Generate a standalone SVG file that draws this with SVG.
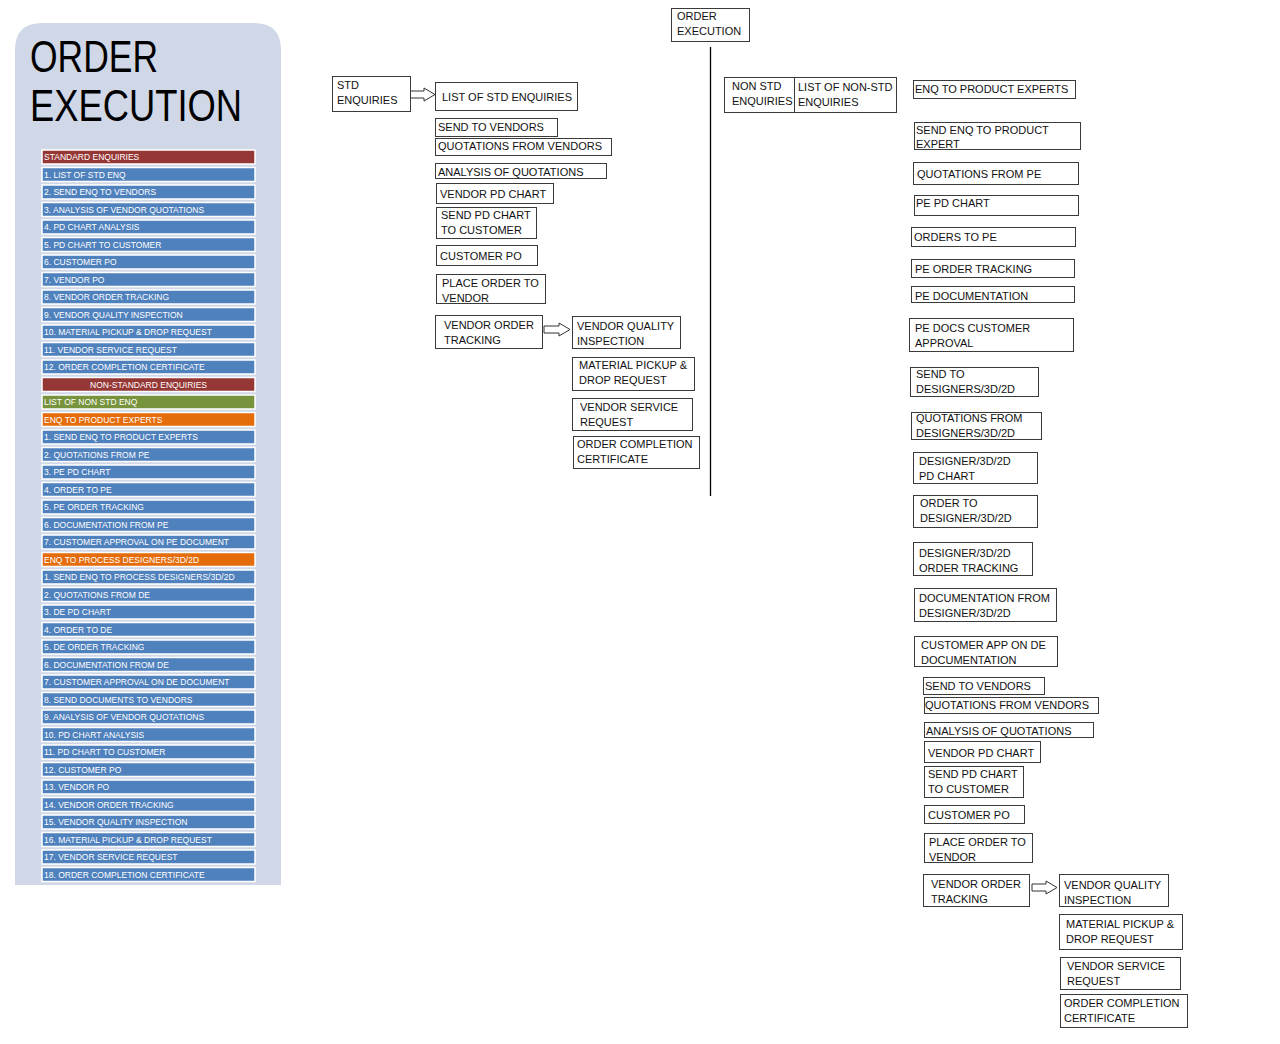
<svg xmlns="http://www.w3.org/2000/svg" width="1280" height="1044" viewBox="0 0 1280 1044">
<style>
.bar{stroke:#fff;stroke-width:1.5}
.b{fill:#4f81bd}.r{fill:#953735}.g{fill:#77933c}.o{fill:#e46c0a}
.bt{font-family:"Liberation Sans",Arial,sans-serif;font-size:8.5px;fill:#fff}
.box{fill:#fff;stroke:#3a3a3a;stroke-width:1}
.t{font-family:"Liberation Sans",Arial,sans-serif;font-size:11px;fill:#111}
.arr{fill:#fff;stroke:#333;stroke-width:1}
</style>
<rect width="1280" height="1044" fill="#fff"/>
<g id="panel">
<path d="M15 885 V50 Q15 23 42 23 H254 Q281 23 281 50 V885 Z" fill="#d0d8e8"/>
<text x="30" y="72" font-family="Liberation Sans,Arial,sans-serif" font-size="44" fill="#000" textLength="128" lengthAdjust="spacingAndGlyphs">ORDER</text>
<text x="30" y="121" font-family="Liberation Sans,Arial,sans-serif" font-size="44" fill="#000" textLength="212" lengthAdjust="spacingAndGlyphs">EXECUTION</text>
<g id="bars">
<rect class="bar r" x="42" y="150" width="213" height="14"/><text class="bt" x="44" y="160">STANDARD ENQUIRIES</text>
<rect class="bar b" x="42" y="167.5" width="213" height="14"/><text class="bt" x="44" y="177.5">1. LIST OF STD ENQ</text>
<rect class="bar b" x="42" y="185" width="213" height="14"/><text class="bt" x="44" y="195">2. SEND ENQ TO VENDORS</text>
<rect class="bar b" x="42" y="202.5" width="213" height="14"/><text class="bt" x="44" y="212.5">3. ANALYSIS OF VENDOR QUOTATIONS</text>
<rect class="bar b" x="42" y="220" width="213" height="14"/><text class="bt" x="44" y="230">4. PD CHART ANALYSIS</text>
<rect class="bar b" x="42" y="237.5" width="213" height="14"/><text class="bt" x="44" y="247.5">5. PD CHART TO CUSTOMER</text>
<rect class="bar b" x="42" y="255" width="213" height="14"/><text class="bt" x="44" y="265">6. CUSTOMER PO</text>
<rect class="bar b" x="42" y="272.5" width="213" height="14"/><text class="bt" x="44" y="282.5">7. VENDOR PO</text>
<rect class="bar b" x="42" y="290" width="213" height="14"/><text class="bt" x="44" y="300">8. VENDOR ORDER TRACKING</text>
<rect class="bar b" x="42" y="307.5" width="213" height="14"/><text class="bt" x="44" y="317.5">9. VENDOR QUALITY INSPECTION</text>
<rect class="bar b" x="42" y="325" width="213" height="14"/><text class="bt" x="44" y="335">10. MATERIAL PICKUP &amp; DROP REQUEST</text>
<rect class="bar b" x="42" y="342.5" width="213" height="14"/><text class="bt" x="44" y="352.5">11. VENDOR SERVICE REQUEST</text>
<rect class="bar b" x="42" y="360" width="213" height="14"/><text class="bt" x="44" y="370">12. ORDER COMPLETION CERTIFICATE</text>
<rect class="bar r" x="42" y="377.5" width="213" height="14"/><text class="bt" x="148.5" y="387.5" text-anchor="middle">NON-STANDARD ENQUIRIES</text>
<rect class="bar g" x="42" y="395" width="213" height="14"/><text class="bt" x="44" y="405">LIST OF  NON STD ENQ</text>
<rect class="bar o" x="42" y="412.5" width="213" height="14"/><text class="bt" x="44" y="422.5">ENQ TO PRODUCT EXPERTS</text>
<rect class="bar b" x="42" y="430" width="213" height="14"/><text class="bt" x="44" y="440">1. SEND ENQ TO PRODUCT EXPERTS</text>
<rect class="bar b" x="42" y="447.5" width="213" height="14"/><text class="bt" x="44" y="457.5">2. QUOTATIONS FROM PE</text>
<rect class="bar b" x="42" y="465" width="213" height="14"/><text class="bt" x="44" y="475">3. PE PD CHART</text>
<rect class="bar b" x="42" y="482.5" width="213" height="14"/><text class="bt" x="44" y="492.5">4. ORDER TO PE</text>
<rect class="bar b" x="42" y="500" width="213" height="14"/><text class="bt" x="44" y="510">5. PE ORDER TRACKING</text>
<rect class="bar b" x="42" y="517.5" width="213" height="14"/><text class="bt" x="44" y="527.5">6. DOCUMENTATION FROM PE</text>
<rect class="bar b" x="42" y="535" width="213" height="14"/><text class="bt" x="44" y="545">7. CUSTOMER APPROVAL ON PE DOCUMENT</text>
<rect class="bar o" x="42" y="552.5" width="213" height="14"/><text class="bt" x="44" y="562.5">ENQ TO PROCESS DESIGNERS/3D/2D</text>
<rect class="bar b" x="42" y="570" width="213" height="14"/><text class="bt" x="44" y="580">1. SEND ENQ TO PROCESS DESIGNERS/3D/2D</text>
<rect class="bar b" x="42" y="587.5" width="213" height="14"/><text class="bt" x="44" y="597.5">2. QUOTATIONS FROM DE</text>
<rect class="bar b" x="42" y="605" width="213" height="14"/><text class="bt" x="44" y="615">3. DE PD CHART</text>
<rect class="bar b" x="42" y="622.5" width="213" height="14"/><text class="bt" x="44" y="632.5">4. ORDER TO DE</text>
<rect class="bar b" x="42" y="640" width="213" height="14"/><text class="bt" x="44" y="650">5. DE ORDER TRACKING</text>
<rect class="bar b" x="42" y="657.5" width="213" height="14"/><text class="bt" x="44" y="667.5">6. DOCUMENTATION FROM DE</text>
<rect class="bar b" x="42" y="675" width="213" height="14"/><text class="bt" x="44" y="685">7. CUSTOMER APPROVAL ON DE DOCUMENT</text>
<rect class="bar b" x="42" y="692.5" width="213" height="14"/><text class="bt" x="44" y="702.5">8. SEND DOCUMENTS TO VENDORS</text>
<rect class="bar b" x="42" y="710" width="213" height="14"/><text class="bt" x="44" y="720">9. ANALYSIS OF VENDOR QUOTATIONS</text>
<rect class="bar b" x="42" y="727.5" width="213" height="14"/><text class="bt" x="44" y="737.5">10. PD CHART ANALYSIS</text>
<rect class="bar b" x="42" y="745" width="213" height="14"/><text class="bt" x="44" y="755">11. PD CHART TO CUSTOMER</text>
<rect class="bar b" x="42" y="762.5" width="213" height="14"/><text class="bt" x="44" y="772.5">12. CUSTOMER PO</text>
<rect class="bar b" x="42" y="780" width="213" height="14"/><text class="bt" x="44" y="790">13. VENDOR PO</text>
<rect class="bar b" x="42" y="797.5" width="213" height="14"/><text class="bt" x="44" y="807.5">14. VENDOR ORDER TRACKING</text>
<rect class="bar b" x="42" y="815" width="213" height="14"/><text class="bt" x="44" y="825">15. VENDOR QUALITY INSPECTION</text>
<rect class="bar b" x="42" y="832.5" width="213" height="14"/><text class="bt" x="44" y="842.5">16. MATERIAL PICKUP &amp; DROP REQUEST</text>
<rect class="bar b" x="42" y="850" width="213" height="14"/><text class="bt" x="44" y="860">17. VENDOR SERVICE REQUEST</text>
<rect class="bar b" x="42" y="867.5" width="213" height="14"/><text class="bt" x="44" y="877.5">18. ORDER COMPLETION CERTIFICATE</text>
</g>
</g>
<g id="connectors">
<line x1="710.5" y1="47" x2="710.5" y2="496" stroke="#000" stroke-width="1.3"/>
<path class="arr" d="M409 91 H424 V88 L435 94.5 L424 101 V98 H409 Z"/>
<path class="arr" d="M544 326 H559 V323 L570 329.5 L559 336 V333 H544 Z"/>
<path class="arr" d="M1032 884 H1046 V881 L1057 887.5 L1046 894 V891 H1032 Z"/>
</g>
<g id="n-root"><rect class="box" x="671.5" y="8.5" width="78" height="33"/><text class="t" x="677" y="20">ORDER</text><text class="t" x="677" y="35">EXECUTION</text></g>
<g id="n-std"><rect class="box" x="332.5" y="76.5" width="78" height="35"/><text class="t" x="337" y="89">STD</text><text class="t" x="337" y="104">ENQUIRIES</text></g>
<g id="n-s1"><rect class="box" x="435.5" y="82.5" width="142" height="28"/><text class="t" x="442" y="101">LIST OF STD ENQUIRIES</text></g>
<g id="n-s2"><rect class="box" x="435.5" y="118.5" width="122" height="18"/><text class="t" x="438" y="131">SEND TO VENDORS</text></g>
<g id="n-s3"><rect class="box" x="435.5" y="138.5" width="176" height="17"/><text class="t" x="438" y="150">QUOTATIONS FROM VENDORS</text></g>
<g id="n-s4"><rect class="box" x="435.5" y="163.5" width="171" height="15"/><text class="t" x="438" y="176">ANALYSIS OF QUOTATIONS</text></g>
<g id="n-s5"><rect class="box" x="436.5" y="183.5" width="117" height="20"/><text class="t" x="440" y="198">VENDOR PD CHART</text></g>
<g id="n-s6"><rect class="box" x="436.5" y="207.5" width="100" height="31"/><text class="t" x="441" y="219">SEND PD CHART</text><text class="t" x="441" y="234">TO CUSTOMER</text></g>
<g id="n-s7"><rect class="box" x="436.5" y="245.5" width="101" height="20"/><text class="t" x="440" y="260">CUSTOMER PO</text></g>
<g id="n-s8"><rect class="box" x="436.5" y="274.5" width="109" height="29"/><text class="t" x="442" y="287">PLACE ORDER TO</text><text class="t" x="442" y="302">VENDOR</text></g>
<g id="n-s9"><rect class="box" x="435.5" y="315.5" width="107" height="33"/><text class="t" x="444" y="329">VENDOR ORDER</text><text class="t" x="444" y="344">TRACKING</text></g>
<g id="n-s10"><rect class="box" x="572.5" y="316.5" width="108" height="32"/><text class="t" x="577" y="330">VENDOR QUALITY</text><text class="t" x="577" y="345">INSPECTION</text></g>
<g id="n-s11"><rect class="box" x="572.5" y="357.5" width="122" height="33"/><text class="t" x="579" y="369">MATERIAL PICKUP &amp;</text><text class="t" x="579" y="384">DROP REQUEST</text></g>
<g id="n-s12"><rect class="box" x="572.5" y="398.5" width="120" height="32"/><text class="t" x="580" y="411">VENDOR SERVICE</text><text class="t" x="580" y="426">REQUEST</text></g>
<g id="n-s13"><rect class="box" x="573.5" y="436.5" width="126" height="32"/><text class="t" x="577" y="448">ORDER COMPLETION</text><text class="t" x="577" y="463">CERTIFICATE</text></g>
<g id="n-nstd"><rect class="box" x="724.5" y="77.5" width="70" height="35"/><text class="t" x="732" y="90">NON STD</text><text class="t" x="732" y="105">ENQUIRIES</text></g>
<g id="n-n1"><rect class="box" x="794.5" y="77.5" width="102" height="35"/><text class="t" x="798" y="91">LIST OF NON-STD</text><text class="t" x="798" y="106">ENQUIRIES</text></g>
<g id="n-p1"><rect class="box" x="913.5" y="80.5" width="162" height="18"/><text class="t" x="915" y="93">ENQ TO PRODUCT EXPERTS</text></g>
<g id="n-p2"><rect class="box" x="914.5" y="122.5" width="166" height="27"/><text class="t" x="916" y="134">SEND ENQ TO PRODUCT</text><text class="t" x="916" y="148">EXPERT</text></g>
<g id="n-p3"><rect class="box" x="913.5" y="162.5" width="165" height="22"/><text class="t" x="917" y="178">QUOTATIONS FROM PE</text></g>
<g id="n-p4"><rect class="box" x="914.5" y="195.5" width="164" height="20"/><text class="t" x="916" y="207">PE PD CHART</text></g>
<g id="n-p5"><rect class="box" x="911.5" y="227.5" width="164" height="19"/><text class="t" x="914" y="241">ORDERS TO PE</text></g>
<g id="n-p6"><rect class="box" x="911.5" y="259.5" width="163" height="18"/><text class="t" x="915" y="273">PE ORDER TRACKING</text></g>
<g id="n-p7"><rect class="box" x="911.5" y="286.5" width="163" height="16"/><text class="t" x="915" y="300">PE DOCUMENTATION</text></g>
<g id="n-p8"><rect class="box" x="909.5" y="318.5" width="164" height="33"/><text class="t" x="915" y="332">PE DOCS CUSTOMER</text><text class="t" x="915" y="347">APPROVAL</text></g>
<g id="n-d1"><rect class="box" x="910.5" y="367.5" width="128" height="29"/><text class="t" x="916" y="378">SEND TO</text><text class="t" x="916" y="393">DESIGNERS/3D/2D</text></g>
<g id="n-d2"><rect class="box" x="911.5" y="412.5" width="130" height="27"/><text class="t" x="916" y="422">QUOTATIONS FROM</text><text class="t" x="916" y="437">DESIGNERS/3D/2D</text></g>
<g id="n-d3"><rect class="box" x="913.5" y="452.5" width="124" height="31"/><text class="t" x="919" y="465">DESIGNER/3D/2D</text><text class="t" x="919" y="480">PD CHART</text></g>
<g id="n-d4"><rect class="box" x="913.5" y="495.5" width="124" height="32"/><text class="t" x="920" y="507">ORDER TO</text><text class="t" x="920" y="522">DESIGNER/3D/2D</text></g>
<g id="n-d5"><rect class="box" x="913.5" y="542.5" width="119" height="33"/><text class="t" x="919" y="557">DESIGNER/3D/2D</text><text class="t" x="919" y="572">ORDER TRACKING</text></g>
<g id="n-d6"><rect class="box" x="914.5" y="588.5" width="142" height="33"/><text class="t" x="919" y="602">DOCUMENTATION FROM</text><text class="t" x="919" y="617">DESIGNER/3D/2D</text></g>
<g id="n-d7"><rect class="box" x="914.5" y="636.5" width="143" height="30"/><text class="t" x="921" y="649">CUSTOMER APP ON DE</text><text class="t" x="921" y="664">DOCUMENTATION</text></g>
<g id="n-v1"><rect class="box" x="923.5" y="677.5" width="121" height="17"/><text class="t" x="925" y="690">SEND TO VENDORS</text></g>
<g id="n-v2"><rect class="box" x="924.5" y="697.5" width="174" height="16"/><text class="t" x="925" y="709">QUOTATIONS FROM VENDORS</text></g>
<g id="n-v3"><rect class="box" x="924.5" y="722.5" width="169" height="15"/><text class="t" x="926" y="735">ANALYSIS OF QUOTATIONS</text></g>
<g id="n-v4"><rect class="box" x="924.5" y="741.5" width="116" height="21"/><text class="t" x="928" y="757">VENDOR PD CHART</text></g>
<g id="n-v5"><rect class="box" x="924.5" y="766.5" width="99" height="31"/><text class="t" x="928" y="778">SEND PD CHART</text><text class="t" x="928" y="793">TO CUSTOMER</text></g>
<g id="n-v6"><rect class="box" x="924.5" y="805.5" width="100" height="18"/><text class="t" x="928" y="819">CUSTOMER PO</text></g>
<g id="n-v7"><rect class="box" x="924.5" y="833.5" width="108" height="29"/><text class="t" x="929" y="846">PLACE ORDER TO</text><text class="t" x="929" y="861">VENDOR</text></g>
<g id="n-v8"><rect class="box" x="923.5" y="874.5" width="106" height="32"/><text class="t" x="931" y="888">VENDOR ORDER</text><text class="t" x="931" y="903">TRACKING</text></g>
<g id="n-v9"><rect class="box" x="1059.5" y="874.5" width="109" height="32"/><text class="t" x="1064" y="889">VENDOR QUALITY</text><text class="t" x="1064" y="904">INSPECTION</text></g>
<g id="n-v10"><rect class="box" x="1059.5" y="914.5" width="123" height="35"/><text class="t" x="1066" y="928">MATERIAL PICKUP &amp;</text><text class="t" x="1066" y="943">DROP REQUEST</text></g>
<g id="n-v11"><rect class="box" x="1060.5" y="957.5" width="120" height="32"/><text class="t" x="1067" y="970">VENDOR SERVICE</text><text class="t" x="1067" y="985">REQUEST</text></g>
<g id="n-v12"><rect class="box" x="1060.5" y="994.5" width="127" height="33"/><text class="t" x="1064" y="1007">ORDER COMPLETION</text><text class="t" x="1064" y="1022">CERTIFICATE</text></g>
</svg>
